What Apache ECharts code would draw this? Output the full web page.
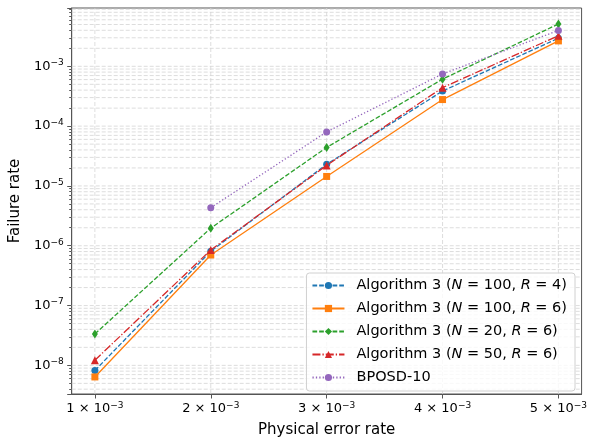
<!DOCTYPE html>
<html>
<head>
<meta charset="utf-8">
<script src="https://cdn.jsdelivr.net/npm/echarts@6/dist/echarts.min.js"></script>
<style>
  html, body { margin: 0; padding: 0; background: #fff; }
  #chart { width: 590px; height: 443px; }
</style>
</head>
<body>
<div id="chart"></div>
<script>
// Failure rate vs physical error rate for several decoder settings
const physicalErrorRates = [0.001, 0.002, 0.003, 0.004, 0.005];
const alg3N100R4 = [8.2e-9, 8.1e-7, 2.3e-5, 3.86e-4, 2.95e-3];
const alg3N100R6 = [6.4e-9, 7.0e-7, 1.44e-5, 2.78e-4, 2.66e-3];
const alg3N20R6  = [3.35e-8, 1.97e-6, 4.4e-5, 6.1e-4, 5.1e-3];
const alg3N50R6  = [1.22e-8, 8.5e-7, 2.2e-5, 4.4e-4, 3.25e-3];
const bposd10    = [null, 4.33e-6, 8.0e-5, 7.46e-4, 3.98e-3];

const seriesNames = [
  'Algorithm 3 (N = 100, R = 4)',
  'Algorithm 3 (N = 100, R = 6)',
  'Algorithm 3 (N = 20, R = 6)',
  'Algorithm 3 (N = 50, R = 6)',
  'BPOSD-10'
];
const xTickValues = [0.001, 0.002, 0.003, 0.004, 0.005];
const xRange = [0.0008, 0.0052];
const yRange = [3.32e-9, 9.44e-3];

const FONT = 'DejaVu Sans';
const GRID_COLOR = '#d4d4d4';

function pairs(ys) {
  const out = [];
  ys.forEach((y, i) => { if (y != null) out.push([physicalErrorRates[i], y]); });
  return out;
}

// Log-scale gridline positions: 1..9 times each power of ten inside the range
const yGridValues = [];
for (let e = -9; e <= -2; e++) {
  for (let m = 1; m <= 9; m++) {
    const v = m * Math.pow(10, e);
    if (v > yRange[0] && v < yRange[1]) yGridValues.push(v);
  }
}

// Grid drawn as one broken polyline: each segment ends with a gap ('-')
const gridPath = [];
yGridValues.forEach(v => {
  gridPath.push([xRange[0], v], [xRange[1], v], [xRange[0], '-']);
});
xTickValues.forEach(x => {
  gridPath.push([x, yRange[0]], [x, yRange[1]], [x, '-']);
});

const styles = [
  { color: '#1f77b4', dash: [4.7, 2], symbol: 'circle', size: 7 },
  { color: '#ff7f0e', dash: 'solid', symbol: 'rect', size: 7 },
  { color: '#2ca02c', dash: [4.7, 2], symbol: 'diamond', size: [6, 9] },
  { color: '#d62728', dash: [8, 2, 1.3, 2], symbol: 'triangle', size: 8 },
  { color: '#9467bd', dash: [1.3, 2.1], symbol: 'circle', size: 7 }
];
const seriesData = [alg3N100R4, alg3N100R6, alg3N20R6, alg3N50R6, bposd10];

const dataSeries = seriesData.map((ys, i) => ({
  name: seriesNames[i],
  type: 'line',
  data: pairs(ys),
  symbol: styles[i].symbol,
  symbolSize: styles[i].size,
  showSymbol: true,
  z: 3 + i,
  itemStyle: { color: styles[i].color },
  lineStyle: { color: styles[i].color, width: 1.3, type: styles[i].dash },
  emphasis: { disabled: true },
  animation: false
}));

const gridSeries = {
  name: 'grid',
  type: 'line',
  data: gridPath,
  connectNulls: false,
  showSymbol: false,
  symbol: 'none',
  silent: true,
  z: 1,
  lineStyle: { color: GRID_COLOR, width: 0.8, type: [4, 2] },
  emphasis: { disabled: true },
  animation: false
};

function legendText(name) {
  return name.replace(/\bN\b/, '{i|N}').replace(/\bR\b/, '{i|R}');
}

const sup = { fontSize: 9, fontFamily: FONT, color: '#000', padding: [0, 0, 7, 0] };

const option = {
  backgroundColor: '#fff',
  animation: false,
  tooltip: { show: false },
  grid: {
    left: 71, right: 7, top: 8, bottom: 44,
    show: true, borderColor: '#555', borderWidth: 1, backgroundColor: 'transparent'
  },
  legend: {
    data: seriesNames,
    orient: 'vertical',
    right: 15,
    bottom: 52,
    padding: [5, 8, 6, 5],
    itemWidth: 32,
    itemHeight: 9,
    itemGap: 8,
    backgroundColor: 'rgba(255,255,255,0.8)',
    borderColor: '#d0d0d0',
    borderWidth: 1,
    borderRadius: 3,
    formatter: legendText,
    textStyle: {
      fontFamily: FONT, fontSize: 14.5, color: '#000', padding: [0, 0, 0, 7],
      rich: { i: { fontFamily: FONT, fontSize: 14.5, fontStyle: 'italic', color: '#000' } }
    }
  },
  xAxis: {
    type: 'value',
    min: xRange[0],
    max: xRange[1],
    name: 'Physical error rate',
    nameLocation: 'middle',
    nameGap: 29,
    nameTextStyle: { fontFamily: FONT, fontSize: 15, color: '#000' },
    axisLine: { show: true, onZero: false, lineStyle: { color: '#555', width: 1 } },
    axisTick: { show: true, customValues: xTickValues, length: 4.5, lineStyle: { color: '#555' } },
    axisLabel: {
      customValues: xTickValues,
      margin: 7,
      fontFamily: FONT, fontSize: 13, color: '#000',
      formatter: v => Math.round(v * 1000) + ' × 10{s|−3}',
      rich: { s: sup }
    },
    splitLine: { show: false }
  },
  yAxis: {
    type: 'log',
    logBase: 10,
    min: yRange[0],
    max: yRange[1],
    name: 'Failure rate',
    nameLocation: 'middle',
    nameGap: 45,
    nameTextStyle: { fontFamily: FONT, fontSize: 15, color: '#000' },
    axisLine: { show: true, lineStyle: { color: '#555', width: 1 } },
    axisTick: { show: true, length: 4.5, lineStyle: { color: '#555' } },
    minorTick: { show: true, splitNumber: 9, length: 2.5, lineStyle: { color: '#555' } },
    axisLabel: {
      margin: 8,
      fontFamily: FONT, fontSize: 13, color: '#000',
      showMinLabel: false, showMaxLabel: false,
      formatter: v => {
        const e = Math.round(Math.log10(v));
        if (Math.abs(Math.log10(v) - e) > 1e-6) return '';
        return '10{s|−' + Math.abs(e) + '}';
      },
      rich: { s: sup }
    },
    splitLine: { show: false },
    minorSplitLine: { show: false }
  },
  series: [gridSeries].concat(dataSeries)
};

const chart = echarts.init(document.getElementById('chart'), null, { renderer: 'canvas' });
chart.setOption(option);
</script>
</body>
</html>
